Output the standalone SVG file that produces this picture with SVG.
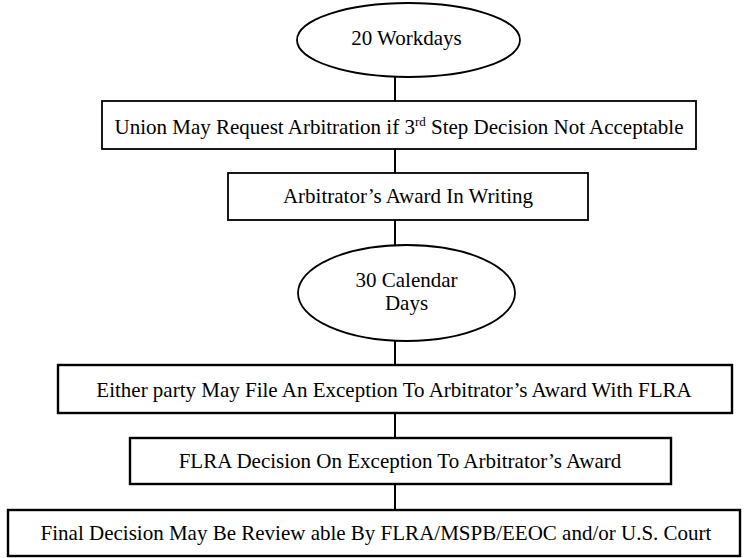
<svg xmlns="http://www.w3.org/2000/svg" width="752" height="558" viewBox="0 0 752 558">
<style>
.shape{fill:#fff;stroke:#000;stroke-width:1.8}
.thick{stroke-width:2.4}
.conn{stroke:#000;stroke-width:2;fill:none}
.t{font-family:'Liberation Serif','Times New Roman',Times,serif;font-size:21px;fill:#000;text-anchor:middle}
</style>
<rect width="752" height="558" fill="#fff"/>
<g id="connectors">
<line class="conn" x1="395" y1="77" x2="395" y2="101"/>
<line class="conn" x1="395" y1="149" x2="395" y2="173"/>
<line class="conn" x1="395" y1="220" x2="395" y2="245"/>
<line class="conn" x1="395" y1="341" x2="395" y2="365"/>
<line class="conn" x1="395" y1="413" x2="395" y2="438"/>
<line class="conn" x1="395" y1="484" x2="395" y2="510"/>
</g>
<g id="n1">
<ellipse class="shape" cx="408.5" cy="40" rx="111.5" ry="37"/>
<text class="t" x="406.5" y="45">20 Workdays</text>
</g>
<g id="n2">
<rect class="shape" x="102" y="101" width="594" height="48"/>
<text class="t" x="399" y="134">Union May Request Arbitration if 3<tspan font-size="13" dy="-8">rd</tspan><tspan dy="8"> Step Decision Not Acceptable</tspan></text>
</g>
<g id="n3">
<rect class="shape" x="228" y="173" width="360" height="47"/>
<text class="t" x="408" y="203">Arbitrator’s Award In Writing</text>
</g>
<g id="n4">
<ellipse class="shape" cx="406.5" cy="293" rx="108.5" ry="48"/>
<text class="t" x="406.5" y="287">30 Calendar</text>
<text class="t" x="406.5" y="310">Days</text>
</g>
<g id="n5">
<rect class="shape thick" x="58" y="365" width="674" height="48"/>
<text class="t" x="394" y="397">Either party May File An Exception To Arbitrator’s Award With FLRA</text>
</g>
<g id="n6">
<rect class="shape thick" x="130" y="438" width="541" height="46"/>
<text class="t" x="400" y="468">FLRA Decision On Exception To Arbitrator’s Award</text>
</g>
<g id="n7">
<rect class="shape thick" x="8" y="510" width="732" height="46"/>
<text class="t" x="376" y="540">Final Decision May Be Review able By FLRA/MSPB/EEOC and/or U.S. Court</text>
</g>
</svg>
